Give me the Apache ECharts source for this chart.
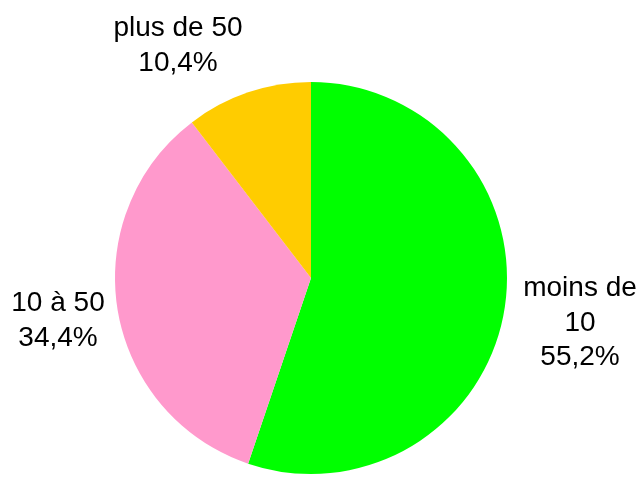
<!DOCTYPE html>
<html>
<head>
<meta charset="utf-8">
<script src="https://cdn.jsdelivr.net/npm/echarts@6/dist/echarts.min.js"></script>
<style>
  html, body { margin: 0; padding: 0; background: #fff; }
  #chart { width: 643px; height: 480px; }
</style>
</head>
<body>
<div id="chart"></div>
<script>
  var categories = ['moins de\n10', '10 à 50', 'plus de 50']
  var shares = [55.2, 34.4, 10.4]
  var colors = ['#00FF00', '#FF99CC', '#FFCC00']

  // label anchor points (centre of each text block)
  var labelPos = [[580, 323], [58, 321], [178, 46]]

  var chart = echarts.init(document.getElementById('chart'))
  var option = {
    animation: false,
    series: [
      {
        type: 'pie',
        center: [311, 278],
        radius: 196,
        startAngle: 90,
        clockwise: true,
        data: categories.map(function (name, i) {
          return { name: name, value: shares[i], itemStyle: { color: colors[i] } }
        }),
        label: {
          show: true,
          position: 'outside',
          color: '#000',
          fontFamily: 'Liberation Sans, Arial, sans-serif',
          fontSize: 28,
          lineHeight: 34.5,
          align: 'center',
          overflow: 'none',
          formatter: function (p) {
            return p.name + '\n' + p.value.toFixed(1).replace('.', ',') + '%'
          }
        },
        labelLine: { show: false },
        labelLayout: function (params) {
          var pos = labelPos[params.dataIndex]
          return { x: pos[0], y: pos[1], align: 'center', verticalAlign: 'middle' }
        },
        emphasis: { disabled: true }
      }
    ]
  }
  chart.setOption(option)
</script>
</body>
</html>
